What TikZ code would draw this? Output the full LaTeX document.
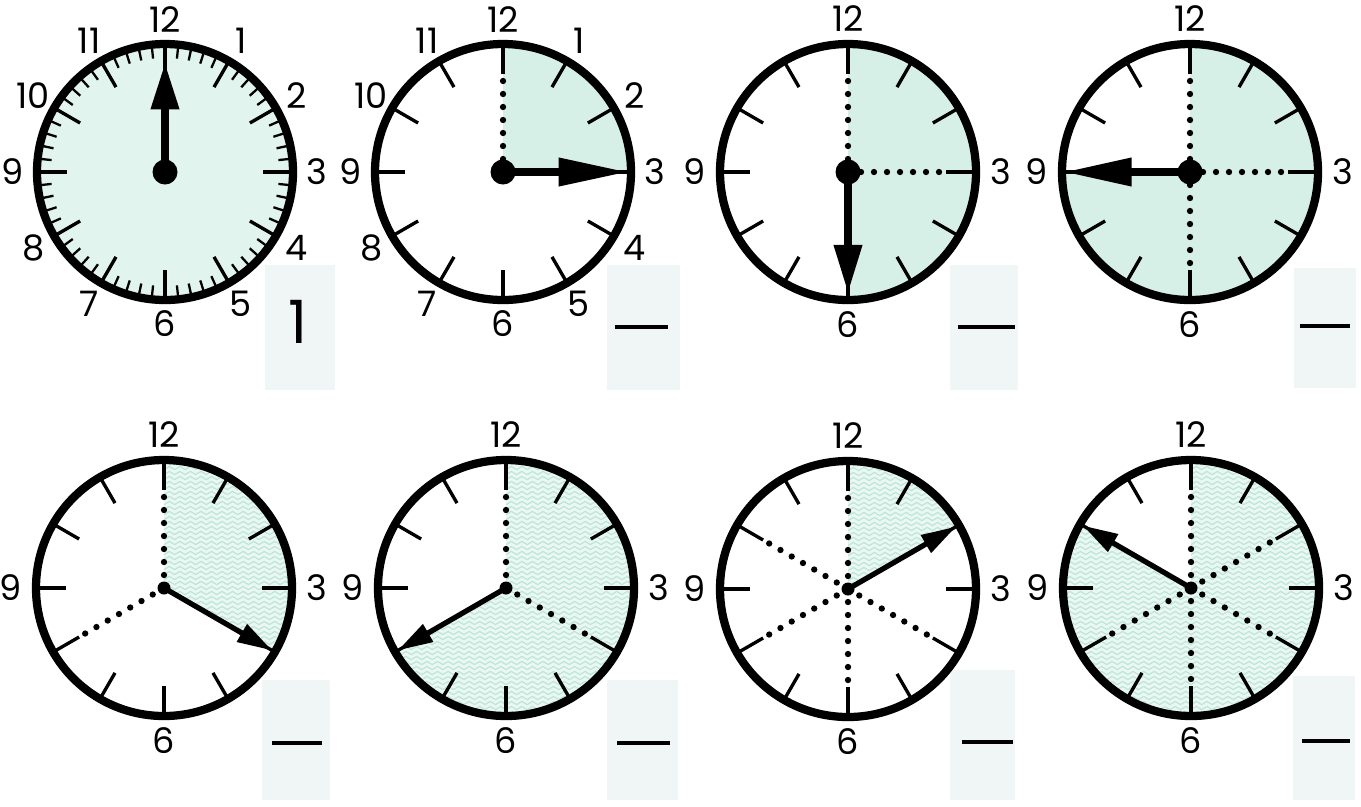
\documentclass[tikz,border=0pt]{standalone}
\usepackage{fontspec}
\setmainfont{Poppins}
\usetikzlibrary{arrows.meta,calc,decorations.pathmorphing}
\definecolor{facebg}{RGB}{226,244,238}
\definecolor{qfill}{RGB}{214,240,232}
\definecolor{wavebg}{RGB}{234,247,243}
\definecolor{wavefg}{RGB}{188,230,217}
\definecolor{boxbg}{RGB}{239,246,245}

\begin{document}
\begin{tikzpicture}[
  x=0.02cm, y=-0.02cm,
  rim/.style      = {line width=4.7pt},
  hrtick/.style   = {line width=1.9pt},
  mintick/.style  = {line width=1.3pt},
  dots/.style     = {line width=3.6pt, line cap=round, dash pattern=on 0pt off 7.4pt},
  bighand/.style  = {line width=5pt, -{Triangle[length=#1, width=15pt]}},
  smallhand/.style= {line width=3pt, -{Triangle[length=20pt, width=11pt]}},
  num/.style      = {font=\fontsize{20}{20}\selectfont, inner sep=0pt},
  ans/.style      = {font=\fontsize{34}{34}\selectfont, inner sep=0pt},
  blank/.style    = {line width=2.2pt},
  wave/.style     = {draw=wavefg, line width=0.7pt, decorate,
                     decoration={snake, segment length=6pt, amplitude=0.9pt}}
]
\useasboundingbox (0,0) rectangle (1361,806);

% ---------- answer boxes ------------------------------------------------
\foreach \n/\x/\y/\X/\Y in {1/265/265/335/390, 2/607/265/680/390, 3/950/265/1018/390, 4/1294/268/1356/388,
                            5/262/680/330/800, 6/607/680/678/800, 7/950/670/1015/800, 8/1293/676/1355/800}
  \fill[boxbg] (\x,\y) coordinate (bx\n) rectangle (\X,\Y);

\node[ans] (a1) at (298,322) {1};
\foreach \n/\x/\X/\y in {2/615/668/327, 3/958/1015/327, 4/1300/1350/326,
                         5/272/322/743, 6/617/670/743, 7/962/1013/742, 8/1302/1350/741}
  \draw[blank] (\x,\y) coordinate (bl\n) -- (\X,\y) coordinate (br\n);

% ---------- clock centres -----------------------------------------------
\foreach \n/\x/\y in {1/165/172, 2/503/172, 3/848/172, 4/1190/172,
                      5/164/588, 6/506/588, 7/848/589, 8/1191/588}
  \coordinate (c\n) at (\x,\y);

% ---------- shaded parts: plain (top row) -------------------------------
\fill[facebg] (c1) circle[radius=128];
\foreach \n/\b in {2/0, 3/90, 4/180}
  \fill[qfill] (c\n) -- ++(-90:128) arc[start angle=-90, end angle=\b, radius=128] -- cycle;

% ---------- shaded parts: wavy (bottom row) -----------------------------
\foreach \n/\b in {5/30, 6/150, 7/-30, 8/210}{
  \begin{scope}
    \clip (c\n) -- ++(-90:128) arc[start angle=-90, end angle=\b, radius=128] -- cycle;
    \fill[wavebg] (c\n) circle[radius=130];
    \foreach \k in {-26,...,26}
      \draw[wave] ($(c\n)+(-135,5*\k)$) -- ++(270,0);
  \end{scope}
}

% ---------- ticks -------------------------------------------------------
\foreach \m in {0,...,59}
  \draw[mintick] (c1) ++(\m*6:114) -- ++(\m*6:14);
\foreach \n in {1,...,8}
  \foreach \h in {1,...,12}
    \draw[hrtick] (c\n) ++(\h*30:98) -- ++(\h*30:30);

% ---------- numbers -----------------------------------------------------
\foreach \n in {1,2}
  \foreach \h in {1,...,12}
    \node[num] (n\n-\h) at ($(c\n)+(\h*30-90:152)$) {\h};
\foreach \n in {3,...,8}
  \foreach \h in {3,6,9,12}
    \node[num] (n\n-\h) at ($(c\n)+(\h*30-90:153)$) {\h};

% ---------- dotted radii ------------------------------------------------
\foreach \n/\a in {2/-90, 3/-90, 3/0, 4/-90, 4/0, 4/90,
                   5/-90, 5/150, 6/-90, 6/30,
                   7/-90, 7/30, 7/90, 7/150, 7/210,
                   8/-90, 8/-30, 8/30, 8/90, 8/150}
  \draw[dots] (c\n) -- ++(\a:98);

% ---------- hands -------------------------------------------------------
\foreach \n/\a/\l/\hl in {1/-90/110/27pt, 2/0/126/40pt, 3/90/122/28pt, 4/180/127/39pt}{
  \coordinate (t\n) at ($(c\n)+(\a:\l)$);
  \draw[bighand=\hl] (c\n) -- (t\n);
  \fill (c\n) circle[radius=12.5];
}
\foreach \n/\a in {5/30, 6/150, 7/-30, 8/210}{
  \coordinate (t\n) at ($(c\n)+(\a:125)$);
  \draw[smallhand] (c\n) -- (t\n);
  \fill (c\n) circle[radius=6.5];
}

% ---------- rims --------------------------------------------------------
\foreach \n in {1,...,8}
  \draw[rim] (c\n) circle[radius=128];

\end{tikzpicture}
\end{document}
